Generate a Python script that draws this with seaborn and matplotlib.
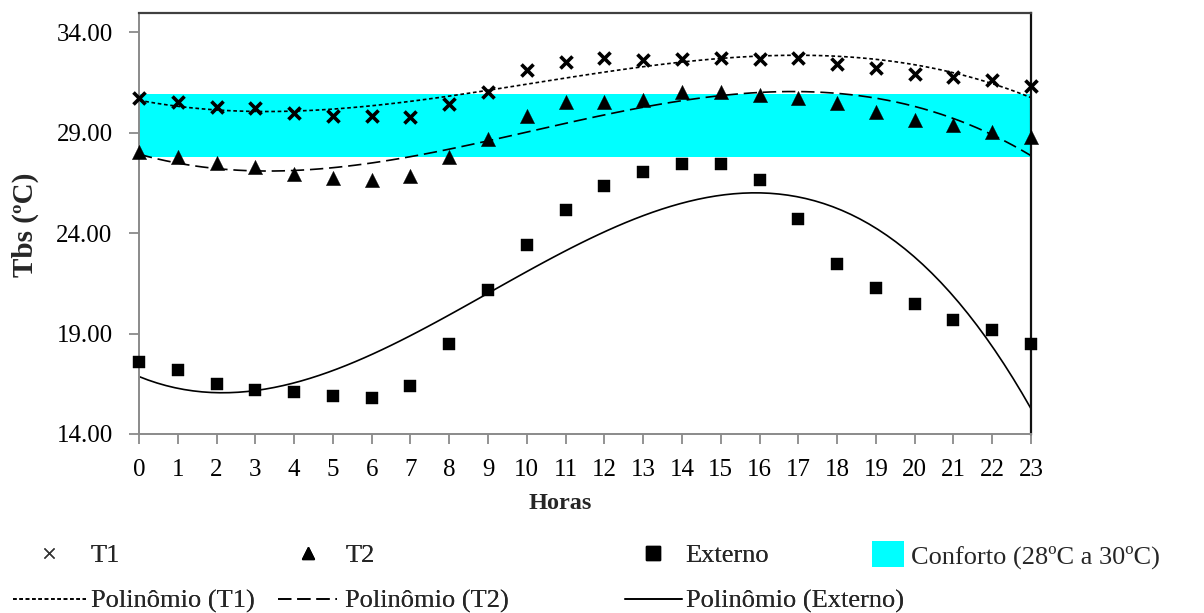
import matplotlib
matplotlib.use("Agg")
import matplotlib.pyplot as plt
import seaborn as sns
from matplotlib.lines import Line2D
from matplotlib.patches import Patch
from matplotlib.ticker import FormatStrFormatter

# Hourly dry-bulb temperatures (ºC)
horas = list(range(24))
t1 = [30.70, 30.50, 30.28, 30.20, 29.99, 29.82, 29.82, 29.79, 30.40, 31.03,
      32.11, 32.49, 32.69, 32.61, 32.67, 32.69, 32.67, 32.70, 32.41, 32.19,
      31.91, 31.78, 31.61, 31.31]
t2 = [28.05, 27.77, 27.47, 27.27, 26.94, 26.72, 26.64, 26.85, 27.77, 28.66,
      29.84, 30.53, 30.53, 30.62, 31.03, 31.03, 30.87, 30.72, 30.45, 30.03,
      29.65, 29.37, 29.04, 28.76]
externo = [17.58, 17.18, 16.49, 16.19, 16.09, 15.89, 15.79, 16.39, 18.48, 21.16,
           23.40, 25.14, 26.34, 27.03, 27.43, 27.43, 26.64, 24.70, 22.46, 21.26,
           20.47, 19.67, 19.17, 18.48]
conforto_min, conforto_max = 27.8, 30.9
yticks = [14, 19, 24, 29, 34]

labels_pts = ["T1", "T2", "Externo"]
labels_fit = ["Polinômio (T1)", "Polinômio (T2)", "Polinômio (Externo)"]
label_conf = "Conforto (28ºC a 30ºC)"

sns.set_style("ticks")
plt.rcParams["font.family"] = ["Liberation Serif", "DejaVu Serif"]
plt.rcParams["mathtext.default"] = "regular"

W, H = 1204, 613
fig = plt.figure(figsize=(W / 100, H / 100), dpi=100)
ax = fig.add_axes([139 / W, 1 - 434 / H, 892 / W, (434 - 13) / H])

CYAN = "#00FFFF"
ax.axhspan(conforto_min, conforto_max, color=CYAN, lw=0, zorder=0)

dot = (0, (2.2, 1.6))
dash = (0, (8, 3.5))
fits = [(t1, dot), (t2, dash), (externo, "-")]
for vals, ls in fits:
    sns.regplot(x=horas, y=vals, order=3, ci=None, scatter=False, truncate=True,
                line_kws=dict(color="black", lw=1.2, ls=ls, zorder=2), ax=ax)

sns.scatterplot(x=horas, y=t1, marker="x", s=75, linewidth=2.6, color="black",
                clip_on=False, zorder=3, ax=ax)
sns.scatterplot(x=horas, y=t2, marker="^", s=105, linewidth=0.3, color="black",
                edgecolor="black", clip_on=False, zorder=3, ax=ax)
sns.scatterplot(x=horas, y=externo, marker="s", s=70, linewidth=0.3, color="black",
                edgecolor="black", clip_on=False, zorder=3, ax=ax)

ax.set_xlim(0, 23)
ax.set_ylim(14, 34.95)
ax.set_xticks(horas)
ax.set_yticks(yticks)
ax.yaxis.set_major_formatter(FormatStrFormatter("%.2f"))
ax.tick_params(axis="both", direction="out", length=7, width=1.3, color="#8a8a8a",
               labelsize=18, labelcolor="black")
ax.tick_params(axis="x", pad=11)
ax.tick_params(axis="y", pad=12)
for side in ("left", "bottom"):
    ax.spines[side].set_color("#8a8a8a")
    ax.spines[side].set_linewidth(1.4)
ax.spines["top"].set_color("#404040")
ax.spines["right"].set_color("#111111")
ax.spines["top"].set_linewidth(1.6)
ax.spines["right"].set_linewidth(1.6)

ax.set_xlabel("Horas", fontsize=17.5, fontweight="bold")
ax.xaxis.set_label_coords((560 - 139) / 892, (434 - 493) / 421)
ax.set_ylabel("Tbs (ºC)", fontsize=21, fontweight="bold")
ax.yaxis.set_label_coords((39 - 139) / 892, (434 - 225) / 421)

# Legend: four columns below the plot
fs = 19
h_t1 = Line2D([], [], ls="none", marker="x", ms=7, mew=1.0, color="#333333")
h_t2 = Line2D([], [], ls="none", marker="^", ms=8, color="black")
h_ex = Line2D([], [], ls="none", marker="s", ms=10, color="black")
h_f1 = Line2D([], [], color="black", lw=1.2, ls=dot)
h_f2 = Line2D([], [], color="black", lw=1.2, ls=dash)
h_f3 = Line2D([], [], color="black", lw=1.2, ls="-")
h_cf = Patch(facecolor=CYAN, edgecolor="none")

ymid = 1 - 578.5 / H
common = dict(loc="center left", frameon=False, fontsize=fs, borderpad=0,
              borderaxespad=0, labelspacing=0.85)
cols = [
    ([h_t1, h_f1], [labels_pts[0], labels_fit[0]], 13, 2.75, 0.2, ymid),
    ([h_t2, h_f2], [labels_pts[1], labels_fit[1]], 278, 2.25, 0.3, ymid),
    ([h_ex, h_f3], [labels_pts[2], labels_fit[2]], 625, 2.15, 0.15, ymid),
]
for hs, ls_, x0, hl, tp, yy in cols:
    lg = fig.legend(hs, ls_, bbox_to_anchor=(x0 / W, yy), handlelength=hl,
                    handletextpad=tp, **common)
    fig.add_artist(lg)
lg = fig.legend([h_cf], [label_conf], bbox_to_anchor=(872 / W, 1 - 555 / H),
                handlelength=1.2, handleheight=1.1, handletextpad=0.28, **common)

fig.savefig("out.png", dpi=100)
